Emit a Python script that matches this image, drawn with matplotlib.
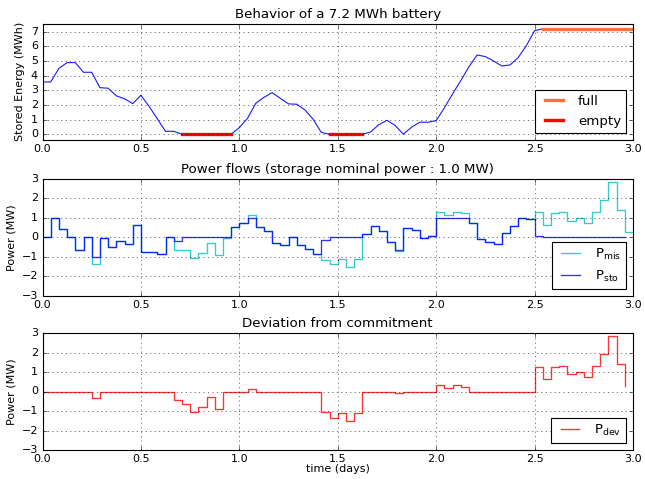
import numpy as np
import matplotlib
matplotlib.use("Agg")
import matplotlib.pyplot as plt

plt.style.use("classic")
plt.rcParams["mathtext.default"] = "regular"

# ---- data (hourly samples, time in hours) ----
energy = [3.57, 3.57, 4.5, 4.89, 4.89, 4.23, 4.23, 3.18, 3.14, 2.62,
          2.42, 2.09, 2.66, 1.9, 1.05, 0.2, 0.2, 0.0, 0.0, 0.0,
          0.0, 0.0, 0.0, 0.0, 0.45, 1.09, 2.11, 2.52, 2.84, 2.45,
          2.07, 2.05, 1.66, 1.02, 0.12, 0.0, 0.0, 0.0, 0.0, 0.0,
          0.15, 0.65, 0.95, 0.6, 0.0, 0.48, 0.82, 0.82, 0.93, 1.8,
          2.75, 3.66, 4.61, 5.41, 5.3, 5.0, 4.66, 4.73, 5.23, 6.05,
          7.07, 7.2, 7.2, 7.2, 7.2, 7.2, 7.2, 7.2, 7.2, 7.2,
          7.2, 7.2, 7.2]

p_sto = [0.0, 1.0, 0.43, 0.0, -0.64, 0.0, -1.0, -0.03, -0.48, -0.19,
         -0.31, 0.66, -0.72, -0.76, -0.83, 0.0, -0.2, 0.0, 0.0, 0.0,
         0.0, 0.0, 0.0, 0.52, 0.74, 1.0, 0.52, 0.33, -0.29, -0.40,
         0.0, -0.40, -0.57, -0.86, -0.14, 0.0, 0.0, 0.0, 0.0, 0.17,
         0.57, 0.34, -0.22, -0.64, 0.47, 0.4, -0.03, 0.09, 1.0, 1.0,
         1.0, 1.0, 0.75, -0.09, -0.22, -0.31, 0.22, 0.6, 1.0, 0.95,
         0.07, 0.0, 0.0, 0.0, 0.0, 0.0, 0.0, 0.0, 0.0, 0.0,
         0.0, 0.0]

p_mis = [0.0, 1.0, 0.43, 0.0, -0.64, 0.0, -1.34, -0.03, -0.48, -0.19,
         -0.31, 0.66, -0.72, -0.76, -0.83, 0.0, -0.64, -0.64, -1.03, -0.78,
         -0.29, -0.9, -0.03, 0.52, 0.74, 1.14, 0.52, 0.33, -0.29, -0.40,
         0.0, -0.40, -0.57, -0.86, -1.17, -1.34, -1.09, -1.53, -1.1, 0.17,
         0.57, 0.34, -0.22, -0.71, 0.47, 0.4, -0.03, 0.09, 1.33, 1.16,
         1.31, 1.24, 0.75, -0.09, -0.22, -0.31, 0.22, 0.6, 1.0, 0.95,
         1.31, 0.63, 1.26, 1.32, 0.87, 1.0, 0.73, 1.3, 1.94, 2.84,
         1.43, 0.29, 0.29]

p_dev = [0.0, 0.0, 0.0, 0.0, 0.0, 0.0, -0.34, 0.0, 0.0, 0.0,
         0.0, 0.0, 0.0, 0.0, 0.0, 0.0, -0.43, -0.64, -1.03, -0.79,
         -0.28, -0.9, -0.03, 0.0, 0.0, 0.14, 0.0, 0.0, 0.0, 0.0,
         0.0, 0.0, 0.0, 0.0, -1.03, -1.35, -1.08, -1.53, -1.1, 0.0,
         0.0, 0.0, 0.0, -0.07, 0.0, 0.0, 0.0, 0.0, 0.33, 0.16,
         0.31, 0.24, 0.0, 0.0, 0.0, 0.0, 0.0, 0.0, 0.0, 0.0,
         1.28, 0.62, 1.26, 1.33, 0.88, 1.0, 0.73, 1.3, 1.94, 2.84,
         1.43, 0.29]

empty_periods = [(17, 23), (35, 39)]   # hours
full_periods = [(61, 72)]               # hours
capacity = 7.2
x_ticks = [0.0, 0.5, 1.0, 1.5, 2.0, 2.5, 3.0]

def days(n):
    return np.arange(n) / 24.0

W, H, DPI = 645, 479, 80
fig = plt.figure(figsize=(W / DPI, H / DPI), dpi=DPI, facecolor="white")

left = 42.5 / W
width = 590.5 / W

def axes_at(top_px, bot_px):
    return fig.add_axes([left, 1 - bot_px / H, width, (bot_px - top_px) / H])

ax1 = axes_at(23.5, 139.5)
ax2 = axes_at(179, 296)
ax3 = axes_at(333, 450)

tick_fs = 10
lab_fs = 10
title_fs = 12
leg_fs = 12

# --- top: energy ---
ax1.plot(days(len(energy)), energy, color="#1a1aff", lw=1)
for i, (s, e) in enumerate(full_periods):
    ax1.plot([s / 24.0, e / 24.0], [capacity, capacity], color="#ff7033",
             lw=3, solid_capstyle="projecting", label="full" if i == 0 else None)
for i, (s, e) in enumerate(empty_periods):
    ax1.plot([s / 24.0, e / 24.0], [0, 0], color="#ff0000",
             lw=3, solid_capstyle="projecting", label="empty" if i == 0 else None)
ax1.set_ylim(-0.05 * capacity, 1.05 * capacity)
ax1.set_yticks(range(0, 8))
ax1.set_title("Behavior of a 7.2 MWh battery", fontsize=title_fs)
ax1.set_ylabel("Stored Energy (MWh)", fontsize=lab_fs)
ax1.legend(loc="lower right", fontsize=leg_fs)

# --- middle: power flows ---
ax2.plot(days(len(p_mis)), p_mis, drawstyle="steps-post", color="c", alpha=0.8,
         lw=1.2, label="P$_{mis}$")
ax2.plot(days(len(p_sto)), p_sto, drawstyle="steps-post", color="b", alpha=0.8,
         lw=1.2, label="P$_{sto}$")
ax2.set_ylim(-3, 3)
ax2.set_yticks(range(-3, 4))
ax2.set_title("Power flows (storage nominal power : 1.0 MW)", fontsize=title_fs)
ax2.set_ylabel("Power (MW)", fontsize=lab_fs)
ax2.legend(loc="lower right", fontsize=leg_fs)

# --- bottom: deviation ---
ax3.plot(days(len(p_dev)), p_dev, drawstyle="steps-post", color="r", alpha=0.8,
         lw=1.2, label="P$_{dev}$")
ax3.set_ylim(-3, 3)
ax3.set_yticks(range(-3, 4))
ax3.set_title("Deviation from commitment", fontsize=title_fs)
ax3.set_ylabel("Power (MW)", fontsize=lab_fs)
ax3.set_xlabel("time (days)", fontsize=lab_fs, labelpad=0)
ax3.legend(loc="lower right", fontsize=leg_fs)

for ax in (ax1, ax2, ax3):
    ax.set_xlim(0, 3)
    ax.set_xticks(x_ticks)
    ax.grid(True)
    ax.tick_params(labelsize=tick_fs)

fig.savefig("out.png", dpi=DPI, facecolor="white")
